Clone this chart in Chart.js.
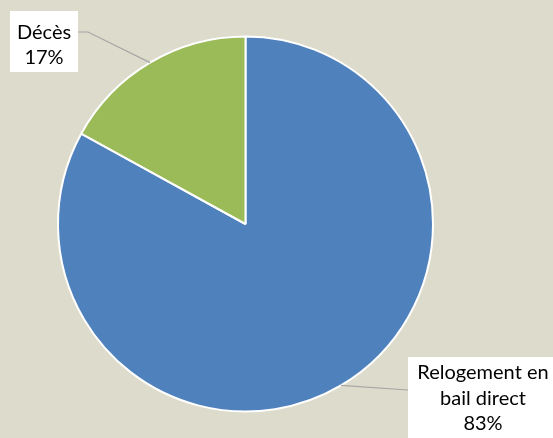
<!DOCTYPE html>
<html>
<head>
<meta charset="utf-8">
<script src="https://cdn.jsdelivr.net/npm/chart.js@4"></script>
<style>
html,body{margin:0;padding:0;background:#DDDBCB;}
#wrap{width:553px;height:438px;position:relative;}
</style>
</head>
<body>
<div id="wrap"><canvas id="c" width="553" height="438"></canvas></div>
<script>
const categories = ["Relogement en bail direct", "Décès"];
const values = [83, 17];
const labelLines = [["Relogement en", "bail direct", "83%"], ["Décès", "17%"]];
const colors = ["#4F81BD", "#9BBB59"];

const labelBoxes = [
  {x: 408, y: 357, w: 150, h: 85, cx: 483, ty: 373, lh: 25.5, elbow: null, end: [408, 390]},
  {x: 10, y: 11, w: 68, h: 61, cx: 44, ty: 33, lh: 25, elbow: [88, 32], end: [78, 32]}
];

const labelPlugin = {
  id: 'pieLabels',
  afterDatasetsDraw(chart) {
    const ctx = chart.ctx;
    const meta = chart.getDatasetMeta(0);
    meta.data.forEach((arc, i) => {
      const p = arc.getProps(['x','y','startAngle','endAngle','outerRadius'], true);
      const mid = (p.startAngle + p.endAngle) / 2;
      const ax = p.x + Math.cos(mid) * p.outerRadius;
      const ay = p.y + Math.sin(mid) * p.outerRadius;
      const b = labelBoxes[i];
      ctx.save();
      ctx.strokeStyle = '#A6A6A6';
      ctx.lineWidth = 1.2;
      ctx.beginPath();
      ctx.moveTo(ax, ay);
      if (b.elbow) ctx.lineTo(b.elbow[0], b.elbow[1]);
      ctx.lineTo(b.end[0], b.end[1]);
      ctx.stroke();
      ctx.fillStyle = '#FFFFFF';
      ctx.fillRect(b.x, b.y, b.w, b.h);
      ctx.fillStyle = '#000000';
      ctx.font = '20px Lato, "Open Sans", sans-serif';
      ctx.textAlign = 'center';
      ctx.textBaseline = 'middle';
      labelLines[i].forEach((t, j) => ctx.fillText(t, b.cx, b.ty + j * b.lh));
      ctx.restore();
    });
  }
};

new Chart(document.getElementById('c'), {
  type: 'pie',
  data: {
    labels: categories,
    datasets: [{
      data: values,
      backgroundColor: colors,
      borderColor: '#FFFFFF',
      borderWidth: 2
    }]
  },
  options: {
    responsive: false,
    animation: false,
    layout: {padding: {left: 57, right: 119, top: 35.5, bottom: 25.5}},
    plugins: {legend: {display: false}, tooltip: {enabled: false}}
  },
  plugins: [labelPlugin]
});
</script>
</body>
</html>
